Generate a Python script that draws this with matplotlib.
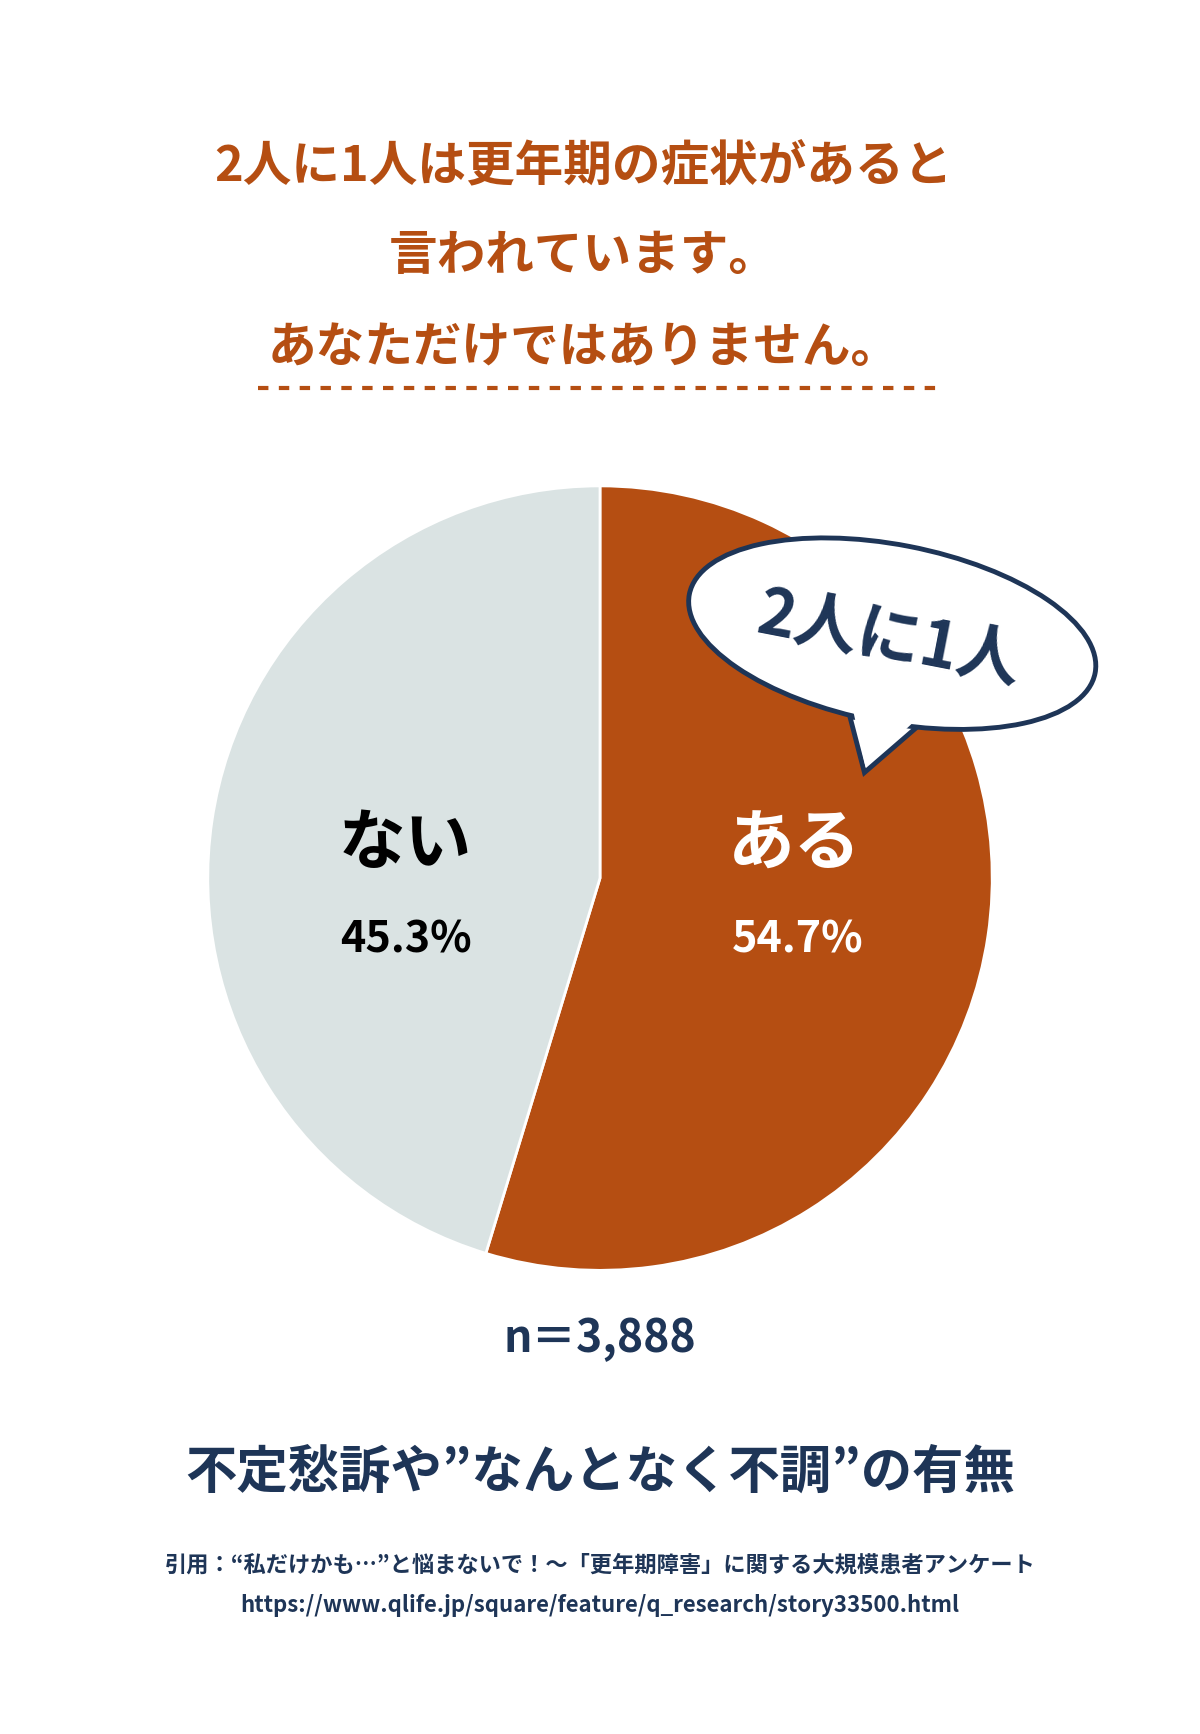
import matplotlib
matplotlib.use("Agg")
import matplotlib.pyplot as plt
from matplotlib.patches import Ellipse, Polygon

labels = ["ある", "ない"]
values = [54.7, 45.3]
pct_labels = ["54.7%", "45.3%"]
colors = ["#B54E12", "#DAE3E3"]
n_text = "n＝3,888"

plt.rcParams['font.family'] = ['Noto Sans CJK JP', 'DejaVu Sans']
ORANGE = "#B54E12"; NAVY = "#1E3557"

fig = plt.figure(figsize=(12, 17.34), dpi=100)
ax = fig.add_axes([0, 0, 1, 1])
ax.set_xlim(0, 1080); ax.set_ylim(0, 1560); ax.axis("off")
ax.set_aspect("equal")

H = 1560
def Y(y): return H - y

ax.text(525, Y(150), "2人に1人は更年期の症状があると", ha="center", va="center", fontsize=35, color=ORANGE, fontweight="bold")
ax.text(525, Y(230), "言われています。", ha="center", va="center", fontsize=35, color=ORANGE, fontweight="bold")
ax.text(525, Y(312), "あなただけではありません。", ha="center", va="center", fontsize=35, color=ORANGE, fontweight="bold")
ax.plot([232, 848], [Y(349), Y(349)], color=ORANGE, lw=3, ls=(0, (2.5, 2.5)))

ax.pie(values, colors=colors, startangle=90, counterclock=False, center=(540, Y(790)), radius=353,
       wedgeprops=dict(edgecolor="white", linewidth=2), frame=True)
ax.set_xlim(0, 1080); ax.set_ylim(0, 1560); ax.axis("off")

ax.text(715, Y(760), labels[0], ha="center", va="center", fontsize=48, color="white", fontweight="bold")
ax.text(718, Y(845), pct_labels[0], ha="center", va="center", fontsize=31, color="white", fontweight="bold")
ax.text(365, Y(760), labels[1], ha="center", va="center", fontsize=48, color="black", fontweight="bold")
ax.text(365, Y(845), pct_labels[1], ha="center", va="center", fontsize=31, color="black", fontweight="bold")

# speech bubble
ax.add_patch(Polygon([(765, Y(645)), (830, Y(650)), (778, Y(695))], closed=True, fc="white", ec=NAVY, lw=3.5, zorder=5))
ax.add_patch(Ellipse((803, Y(570)), 372, 160, angle=-11, fc="white", ec=NAVY, lw=3.5, zorder=6))
ax.add_patch(Polygon([(768, Y(640)), (826, Y(646)), (779, Y(690))], closed=True, fc="white", ec="none", zorder=7))
ax.text(800, Y(575), "2人に1人", ha="center", va="center", fontsize=46, color=NAVY, fontweight="bold", rotation=-11, zorder=8)

ax.text(540, Y(1205), n_text, ha="center", va="center", fontsize=32, color=NAVY, fontweight="bold")
ax.text(540, Y(1325), "不定愁訴や”なんとなく不調”の有無", ha="center", va="center", fontsize=37, color=NAVY, fontweight="bold")
ax.text(540, Y(1408), "引用：“私だけかも…”と悩まないで！～「更年期障害」に関する大規模患者アンケート", ha="center", va="center", fontsize=16, color=NAVY, fontweight="bold")
ax.text(540, Y(1445), "https://www.qlife.jp/square/feature/q_research/story33500.html", ha="center", va="center", fontsize=16, color=NAVY, fontweight="bold")

fig.savefig("out.png", dpi=100, facecolor="white")
